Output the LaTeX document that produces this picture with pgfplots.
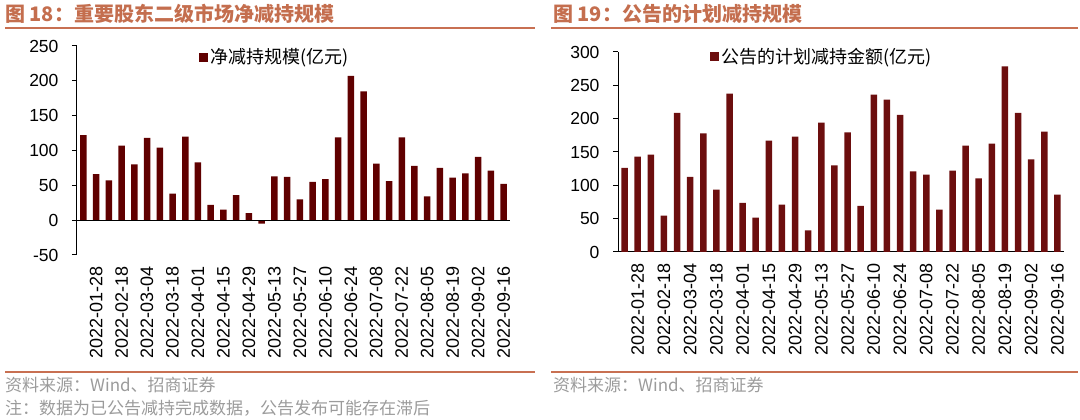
\documentclass[border=0pt]{standalone}
\usepackage{pgfplots}
\pgfplotsset{compat=1.18}
\usepackage{fontspec}
\setmainfont{Liberation Sans}
\newfontfamily\cjk{Noto Sans CJK SC}
\definecolor{barA}{RGB}{96,0,0}
\definecolor{barB}{RGB}{108,14,14}
\definecolor{ttl}{RGB}{196,110,78}
\definecolor{rul}{RGB}{200,112,82}
\definecolor{src}{RGB}{155,155,155}
\pgfplotsset{
  common/.style={
    scale only axis,
    xmin=-0.5, xmax=33.5,
    axis y line=left, axis x line=bottom,
    axis line style={-, black, line width=1pt},
    tick align=outside, major tick length=5pt,
    ytick style={black, line width=1pt},
    xtick style={draw=none},
    xtick={1,3,...,33},
    xticklabels={2022-01-28,2022-02-18,2022-03-04,2022-03-18,2022-04-01,2022-04-15,2022-04-29,2022-05-13,2022-05-27,2022-06-10,2022-06-24,2022-07-08,2022-07-22,2022-08-05,2022-08-19,2022-09-02,2022-09-16},
    x tick label style={rotate=90, anchor=east, font=\fontsize{18}{20}\selectfont, xshift=-5pt, inner sep=1pt},
    y tick label style={font=\fontsize{17.5}{20}\selectfont, xshift=-10pt},
    ybar, bar width=6.5pt,
    legend style={draw=none, fill=none, inner sep=0pt, font=\cjk\fontsize{18}{20}\selectfont, anchor=west},
    legend image code/.code={\fill[#1] (0pt,-4.5pt) rectangle (9pt,4.5pt);},
    legend cell align=left,
  }
}
\begin{document}
\begin{tikzpicture}[x=1pt,y=1pt]
\useasboundingbox (0,0) rectangle (1080,420);
% titles
\node[anchor=west, inner sep=0pt, text=ttl, font=\cjk\bfseries\fontsize{20}{22}\selectfont] at (5,406) {图 18：重要股东二级市场净减持规模};
\node[anchor=west, inner sep=0pt, text=ttl, font=\cjk\bfseries\fontsize{20}{22}\selectfont] at (553,406) {图 19：公告的计划减持规模};
\draw[rul, line width=2pt] (5,392) -- (535,392);
\draw[rul, line width=2pt] (551,392) -- (1078,392);
\draw[rul, line width=2pt] (5,48) -- (535,48);
\draw[rul, line width=2pt] (551,48) -- (1078,48);
\node[anchor=west, inner sep=0pt, text=src, font=\cjk\fontsize{17}{20}\selectfont] at (5,35) {资料来源：Wind、招商证券};
\node[anchor=west, inner sep=0pt, text=src, font=\cjk\fontsize{17}{20}\selectfont] at (5,12) {注：数据为已公告减持完成数据，公告发布可能存在滞后};
\node[anchor=west, inner sep=0pt, text=src, font=\cjk\fontsize{17}{20}\selectfont] at (553,35) {资料来源：Wind、招商证券};

\begin{axis}[common,
  at={(77pt,165pt)}, anchor=south west,
  width=433pt, height=209pt,
  ymin=-50, ymax=250,
  ytick={-50,0,50,100,150,200,250},
  yticklabels={-50,0,50,100,150,200,250},
  x axis line style={draw=none},
  legend style={at={(0.282,0.947)}},
]
\addplot[fill=barA, draw=none] coordinates {
(0,122) (1,66) (2,57) (3,107) (4,80) (5,118) (6,104) (7,38) (8,120) (9,83)
(10,22) (11,15) (12,36) (13,10) (14,-5) (15,63) (16,62) (17,30) (18,55) (19,59)
(20,119) (21,207) (22,185) (23,81) (24,56) (25,119) (26,78) (27,34) (28,75) (29,61)
(30,67) (31,91) (32,71) (33,52)};
\addlegendentry{净减持规模(亿元)}
\draw[black, line width=1pt] (axis cs:-0.5,0) -- (axis cs:33.5,0);
\end{axis}

\begin{axis}[common,
  at={(618pt,168pt)}, anchor=south west,
  width=446pt, height=200pt,
  ymin=0, ymax=300,
  ytick={0,50,100,150,200,250,300},
  yticklabels={0,50,100,150,200,250,300},
  legend style={at={(0.206,0.975)}},
]
\addplot[fill=barB, draw=none] coordinates {
(0,126) (1,143) (2,146) (3,54.5) (4,208.5) (5,112.5) (6,178) (7,93.5) (8,237.5) (9,73.5)
(10,51.5) (11,167) (12,71) (13,173) (14,32.5) (15,194) (16,130) (17,179.5) (18,69) (19,236)
(20,228.5) (21,205.5) (22,121) (23,116) (24,63.5) (25,122) (26,159.5) (27,110.5) (28,162.5) (29,278.5)
(30,208.5) (31,139) (32,180.5) (33,86)};
\addlegendentry{公告的计划减持金额(亿元)}
\end{axis}
\end{tikzpicture}
\end{document}
